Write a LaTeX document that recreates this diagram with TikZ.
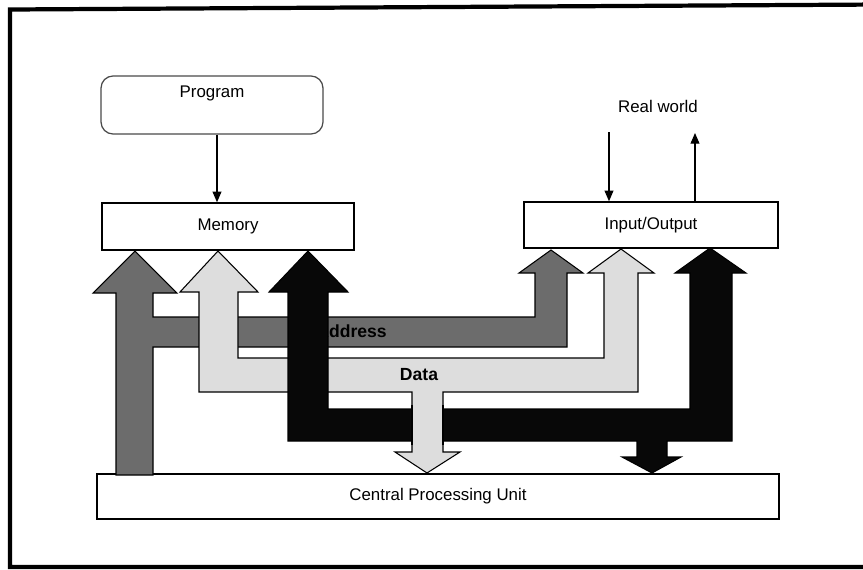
\documentclass[tikz,border=0pt]{standalone}
\usepackage{fontspec}
\setmainfont{Liberation Sans}
\usetikzlibrary{arrows.meta}

\definecolor{addrgray}{HTML}{6C6C6C}
\definecolor{datagray}{HTML}{DDDDDD}
\definecolor{ctrlblack}{HTML}{080808}
\definecolor{progline}{HTML}{4A4A4A}

\tikzset{
  unitbox/.style={draw=black, line width=0.85pt, fill=white, inner sep=0pt,
    font=\fontsize{9.6}{11.5}\selectfont},
  progbox/.style={draw=progline, line width=0.7pt, rounded corners=0.24cm,
    minimum width=4.44cm, minimum height=1.16cm, inner sep=0pt},
  plainlabel/.style={inner sep=0pt, font=\fontsize{9.6}{11.5}\selectfont},
  buslabel/.style={inner sep=0pt, font=\fontsize{10}{12}\selectfont\bfseries},
  flow/.style={line width=0.6pt, -{Triangle[length=6pt,width=5pt]}},
  busline/.style={draw=black, line width=0.6pt, line join=miter},
}

\begin{document}
\begin{tikzpicture}[x=0.02cm, y=-0.02cm]
\useasboundingbox (0,0) rectangle (863,569);
\clip (0,0) rectangle (863,569);
\fill[white] (0,0) rectangle (863,569);

% outer frame
\draw[line width=2.4pt] (880,567) -- (10,567) -- (10,9.5) -- (880,4.5);

% units
\node[progbox] (prog) at (212,105) {};
\node[plainlabel, anchor=base] (progtxt) at (212,97) {Program};
\node[unitbox, minimum width=5.04cm, minimum height=0.94cm] (mem) at (228,226.5) {Memory};
\node[unitbox, minimum width=5.08cm, minimum height=0.92cm] (io) at (651,225) {Input/Output};
\node[unitbox, minimum width=13.64cm, minimum height=0.9cm] (cpu) at (438,496.5) {Central Processing Unit};

% program feeds memory
\draw[flow] ([xshift=0.1cm]prog.south) -- ([xshift=0.1cm]prog.south |- mem.north);

% real world link
\node[plainlabel] (world) at (658,106) {Real world};
\coordinate (rwin) at (609,132);
\coordinate (rwout) at (695,133);
\draw[flow] (rwin) -- (rwin |- io.north);
\draw[flow] (rwout |- io.north) -- (rwout);

% address bus
\filldraw[busline, fill=addrgray]
  (116,475) -- (116,293) -- (93,293) -- (135,251) -- (177,293) -- (153,293)
  -- (153,317) -- (535,317) -- (535,273) -- (519,273) -- (551,250) -- (583,273)
  -- (567,273) -- (567,347) -- (153,347) -- (153,475) -- cycle;
\node[buslabel, anchor=west] (addrtxt) at (316,331) {Address};

% data bus
\filldraw[busline, fill=datagray]
  (199,392) -- (199,292) -- (180,292) -- (218,251) -- (258,292) -- (238,292)
  -- (238,358) -- (604,358) -- (604,273) -- (588,273) -- (621,249) -- (654,273)
  -- (638,273) -- (638,392) -- (443,392) -- (443,452) -- (460,452) -- (427,473)
  -- (395,452) -- (412,452) -- (412,392) -- cycle;
\node[buslabel] (datatxt) at (419,375) {Data};

% control bus
\filldraw[busline, fill=ctrlblack]
  (288,441) -- (288,292) -- (269,292) -- (308,251) -- (348,292) -- (328,292)
  -- (328,409) -- (690,409) -- (690,273) -- (675,273) -- (710,248) -- (746,273)
  -- (732,273) -- (732,441) -- (667,441) -- (667,457) -- (681,457) -- (652,473)
  -- (622,457) -- (637,457) -- (637,441) -- cycle;

% data branch passes over the control bus
\fill[datagray] (412,405) rectangle (443,445);
\draw[busline] (412,405) -- (412,445) (443,405) -- (443,445);
\end{tikzpicture}
\end{document}
